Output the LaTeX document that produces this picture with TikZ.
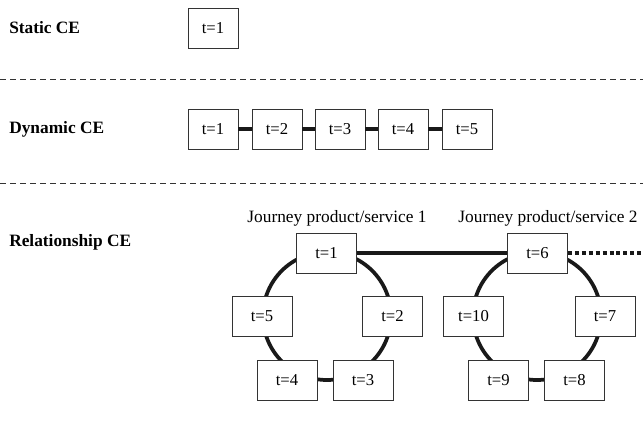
\documentclass[tikz,border=0pt]{standalone}
\usepackage{fontspec}
\setmainfont{Liberation Serif}
\begin{document}
\begin{tikzpicture}[x=0.75pt,y=-0.75pt,
  tbox/.style={draw=black!80,line width=0.6pt,fill=white,minimum width=37.5pt,minimum height=30pt,inner sep=0pt,font=\fontsize{12.5}{14}\selectfont},
  rbox/.style={tbox,minimum width=45pt},
  cat/.style={anchor=west,inner sep=0pt,font=\fontsize{13}{15}\selectfont\bfseries},
  jlab/.style={inner sep=0pt,font=\fontsize{13}{15}\selectfont},
  link/.style={line width=2.8pt,black!90},
  ring/.style={line width=2.8pt,black!90},
  sep/.style={line width=0.6pt,black!80,dash pattern=on 4.5pt off 3pt}
]
\useasboundingbox (0,0) rectangle (643,429);
% categories
\node[cat] (lstatic) at (9,28) {Static CE};
\node[cat] (ldyn) at (9,129) {Dynamic CE};
\node[cat] (lrel) at (9,242) {Relationship CE};
% separators
\coordinate (s1a) at (0,79); \coordinate (s1b) at (643,79);
\coordinate (s2a) at (0,183); \coordinate (s2b) at (643,183);
\draw[sep] (s1a) -- (s1b);
\draw[sep] (s2a) -- (s2b);
% static
\node[tbox] (st1) at (213,28) {t=1};
% dynamic
\node[tbox] (d1) at (213,129) {t=1};
\node[tbox] (d2) at (277,129) {t=2};
\node[tbox] (d3) at (340,129) {t=3};
\node[tbox] (d4) at (403,129) {t=4};
\node[tbox] (d5) at (467,129) {t=5};
\draw[link] (d1) -- (d2);
\draw[link] (d2) -- (d3);
\draw[link] (d3) -- (d4);
\draw[link] (d4) -- (d5);
% rings
\coordinate (c1) at (327,316);
\coordinate (c2) at (537,316);
\draw[ring] (c1) circle[radius=48pt];
\draw[ring] (c2) circle[radius=48pt];
\node[jlab] (j1) at (337,218) {Journey product/service 1};
\node[jlab] (j2) at (548,218) {Journey product/service 2};
\node[rbox] (r1) at (326.5,253) {t=1};
\node[rbox] (r2) at (392.5,316) {t=2};
\node[rbox] (r3) at (363,380.5) {t=3};
\node[rbox] (r4) at (287,380.5) {t=4};
\node[rbox] (r5) at (262,316) {t=5};
\node[rbox] (r6) at (537.5,253) {t=6};
\node[rbox] (r7) at (605,316) {t=7};
\node[rbox] (r8) at (574.5,380.5) {t=8};
\node[rbox] (r9) at (498.5,380.5) {t=9};
\node[rbox] (r10) at (473.5,316) {t=10};
\draw[link] (r1) -- (r6);
\coordinate (dend) at (643,253);
\draw[link,dash pattern=on 3pt off 2.2pt] (r6.east) -- (dend);
\end{tikzpicture}
\end{document}
